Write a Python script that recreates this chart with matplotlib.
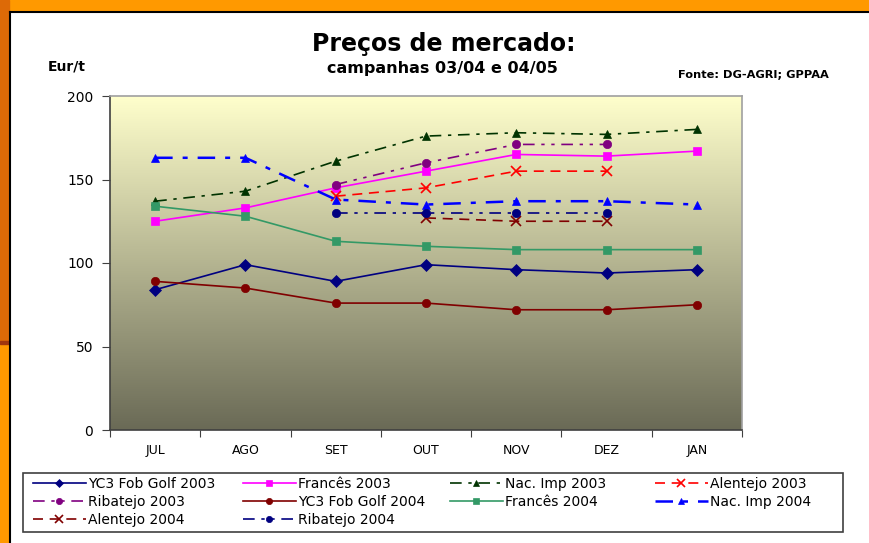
import numpy as np
import matplotlib.pyplot as plt
from matplotlib.patches import Rectangle
from matplotlib.lines import Line2D

# --- data (Eur/t) ---
months = ["JUL", "AGO", "SET", "OUT", "NOV", "DEZ", "JAN"]
nan = np.nan
yc3_2003 = [84, 99, 89, 99, 96, 94, 96]
frances_2003 = [125, 133, 145, 155, 165, 164, 167]
nacimp_2003 = [137, 143, 161, 176, 178, 177, 180]
alentejo_2003 = [nan, nan, 140, 145, 155, 155, nan]
ribatejo_2003 = [nan, nan, 147, 160, 171, 171, nan]
yc3_2004 = [89, 85, 76, 76, 72, 72, 75]
frances_2004 = [134, 128, 113, 110, 108, 108, 108]
nacimp_2004 = [163, 163, 138, 135, 137, 137, 135]
alentejo_2004 = [nan, nan, nan, 127, 125, 125, nan]
ribatejo_2004 = [nan, nan, 130, 130, 130, 130, nan]

series = [
    ("YC3 Fob Golf 2003", yc3_2003, "#000080", "-", "D", 1.2),
    ("Francês 2003", frances_2003, "#FF00FF", "-", "s", 1.2),
    ("Nac. Imp 2003", nacimp_2003, "#003300", (0, (7, 4, 2, 4)), "^", 1.2),
    ("Alentejo 2003", alentejo_2003, "#FF0000", (0, (6, 4)), "x", 1.2),
    ("Ribatejo 2003", ribatejo_2003, "#800080", (0, (7, 4, 2, 4, 2, 4)), "o", 1.2),
    ("YC3 Fob Golf 2004", yc3_2004, "#800000", "-", "o", 1.2),
    ("Francês 2004", frances_2004, "#339966", "-", "s", 1.2),
    ("Nac. Imp 2004", nacimp_2004, "#0000FF", (0, (7, 4, 2, 4)), "^", 1.8),
    ("Alentejo 2004", alentejo_2004, "#800000", (0, (6, 4)), "x", 1.2),
    ("Ribatejo 2004", ribatejo_2004, "#000080", (0, (7, 4, 2, 4, 2, 4)), "o", 1.2),
]

W, H = 869, 543
fig = plt.figure(figsize=(W / 100, H / 100), dpi=100)

# slide frame
fig.patches.append(Rectangle((0, 0), 1, 1, transform=fig.transFigure,
                             color="white", zorder=-10))
fig.patches.append(Rectangle((0, 1 - 11 / H), 1, 11 / H, transform=fig.transFigure,
                             color="#FF9900", zorder=-5))
fig.patches.append(Rectangle((0, 1 - 341 / H), 9 / W, 341 / H,
                             transform=fig.transFigure, color="#DD6A07", zorder=-4))
fig.patches.append(Rectangle((0, 0), 9 / W, 1 - 344 / H,
                             transform=fig.transFigure, color="#FF9900", zorder=-4))
fig.patches.append(Rectangle((0, 1 - 344 / H), 9 / W, 3 / H,
                             transform=fig.transFigure, color="#A0360E", zorder=-4))
fig.lines.append(Line2D([9.5 / W, 1], [1 - 11.5 / H] * 2, transform=fig.transFigure,
                        color="black", lw=1.5))
fig.lines.append(Line2D([9.5 / W] * 2, [0, 1 - 11.5 / H], transform=fig.transFigure,
                        color="black", lw=1.5))

ax = fig.add_axes([110 / W, 1 - 430 / H, 632 / W, 334 / H])

# gradient background
top = np.array([255, 255, 204]) / 255
bot = np.array([106, 106, 86]) / 255
t = np.linspace(0, 1, 256)[:, None]
grad = (top * (1 - t) + bot * t)[:, None, :]
ax.imshow(grad, extent=[-0.5, 6.5, 0, 200], aspect="auto", zorder=0)

x = np.arange(len(months))
handles = []
for label, vals, col, ls, mk, lw in series:
    h, = ax.plot(x, vals, color=col, ls=ls, lw=lw, marker=mk, markersize=6 if mk != "x" else 7,
                 markeredgewidth=1.2 if mk == "x" else 0.5, markeredgecolor=col,
                 label=label, zorder=3)
    handles.append(h)

ax.set_xlim(-0.5, 6.5)
ax.set_ylim(0, 200)
ax.set_yticks([0, 50, 100, 150, 200])
ax.set_xticks(np.arange(-0.5, 7, 1))
ax.set_xticklabels([])
ax.set_xticks(x, minor=True)
ax.set_xticklabels(months, minor=True, fontsize=9, family="DejaVu Sans")
ax.tick_params(axis="x", which="minor", length=0, pad=10)
ax.tick_params(axis="x", which="major", length=5, direction="out", color="#404040")
ax.tick_params(axis="y", length=6, direction="out", color="#404040", labelsize=10, pad=6)
for lbl in ax.get_yticklabels():
    lbl.set_family("DejaVu Sans")
for side in ("top", "right"):
    ax.spines[side].set_color("#A0A0A0")
    ax.spines[side].set_linewidth(1.2)
for side in ("left", "bottom"):
    ax.spines[side].set_color("#404040")
    ax.spines[side].set_linewidth(1.2)

fig.text(444 / W, 1 - 44 / H, "Preços de mercado:", ha="center", va="center",
         fontsize=17, fontweight="bold", family="DejaVu Sans")
fig.text(442 / W, 1 - 69 / H, "campanhas 03/04 e 04/05", ha="center", va="center",
         fontsize=11.5, fontweight="bold", family="DejaVu Sans")
fig.text(48 / W, 1 - 67 / H, "Eur/t", ha="left", va="center",
         fontsize=10, fontweight="bold", family="DejaVu Sans")
fig.text(829 / W, 1 - 75 / H, "Fonte: DG-AGRI; GPPAA", ha="right", va="center",
         fontsize=8.2, fontweight="bold", family="DejaVu Sans")

# legend: box plus one legend per column (row-major order like the original)
fig.patches.append(Rectangle((23 / W, 1 - 532 / H), 820 / W, 59 / H,
                             transform=fig.transFigure, facecolor="white",
                             edgecolor="#404040", lw=1.2, zorder=1))
col_x = [33, 243, 450, 655]
ncol = 4
for c, cx in enumerate(col_x):
    idx = list(range(c, len(series), ncol))
    lg = fig.legend([handles[i] for i in idx], [series[i][0] for i in idx],
                    loc="upper left", bbox_to_anchor=(cx / W, 1 - 477 / H),
                    frameon=False, prop={"family": "DejaVu Sans", "size": 10},
                    handlelength=3.8, handletextpad=0.15, labelspacing=0.3,
                    borderpad=0, borderaxespad=0, markerscale=0.75)
    lg.set_zorder(2)

fig.savefig("out.png", dpi=100)
